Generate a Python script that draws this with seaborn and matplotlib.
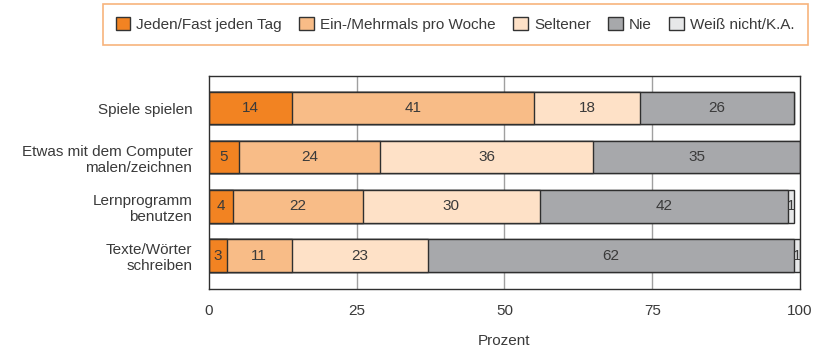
import numpy as np
import pandas as pd
import matplotlib
matplotlib.use("Agg")
import matplotlib.pyplot as plt
import seaborn as sns
from matplotlib.patches import Patch

activities = ["Spiele spielen",
              "Etwas mit dem Computer\nmalen/zeichnen",
              "Lernprogramm\nbenutzen",
              "Texte/Wörter\nschreiben"]
categories = ["Jeden/Fast jeden Tag", "Ein-/Mehrmals pro Woche", "Seltener", "Nie", "Weiß nicht/K.A."]
daily = [14, 5, 4, 3]
weekly = [41, 24, 22, 11]
rarely = [18, 36, 30, 23]
never = [26, 35, 42, 62]
unknown = [0, 0, 1, 1]
colors = ["#F28322", "#F8BC87", "#FEE1C7", "#A7A8AB", "#E7E8E9"]
xticks = [0, 25, 50, 75, 100]

series = [daily, weekly, rarely, never, unknown]
df = pd.DataFrame({c: v for c, v in zip(categories, series)}, index=activities)
cum = df.cumsum(axis=1)

sns.set_theme(style="white")
plt.rcParams["font.family"] = ["Liberation Sans", "DejaVu Sans"]
text_color = "#3a3a3a"
fs = 11

fig = plt.figure(figsize=(8.23, 3.53), dpi=100)
ax = fig.add_axes([0.254, 0.181, 0.718, 0.605])

# gridlines behind the bars
for t in xticks[1:-1]:
    ax.axvline(t, color="#a0a0a0", lw=1.0, zorder=0)

# stacked bars: draw cumulative totals from the longest down
for i in range(len(categories) - 1, -1, -1):
    cat = categories[i]
    plot_df = pd.DataFrame({"activity": activities, "value": cum[cat].values})
    sns.barplot(data=plot_df, x="value", y="activity", orient="h", ax=ax,
                color=colors[i], saturation=1, width=0.66,
                edgecolor="#2f2f2f", linewidth=1.0, zorder=2)

# value labels in the segment centres
for i, cat in enumerate(categories):
    for j, act in enumerate(activities):
        v = df.loc[act, cat]
        if v <= 0:
            continue
        start = cum.loc[act, cat] - v
        ax.text(start + v / 2, j, f"{v}", ha="center", va="center",
                fontsize=fs, color=text_color, zorder=3)

ax.set_xlim(0, 100)
ax.set_ylim(3.68, -0.66)
ax.set_xticks(xticks)
ax.set_xticklabels([str(t) for t in xticks], fontsize=fs, color=text_color)
ax.tick_params(axis="x", direction="out", length=7, width=1, color="#333333", pad=4)
ax.tick_params(axis="y", length=0, pad=12)
for lab in ax.get_yticklabels():
    lab.set_fontsize(fs)
    lab.set_color(text_color)
    lab.set_horizontalalignment("right")
ax.set_ylabel("")
ax.set_xlabel("Prozent", fontsize=fs, color=text_color, labelpad=11)
for s in ax.spines.values():
    s.set_visible(True)
    s.set_color("#2f2f2f")
    s.set_linewidth(1.0)

handles = [Patch(facecolor=c, edgecolor="#333333", linewidth=1.0) for c in colors]
leg = fig.legend(handles, categories, loc="center", bbox_to_anchor=(0.553, 0.93),
                 ncol=5, frameon=True, fontsize=fs, handlelength=0.95, handleheight=0.95,
                 handletextpad=0.4, columnspacing=1.15, borderpad=0.85, fancybox=False)
leg.get_frame().set_edgecolor("#F5A15C")
leg.get_frame().set_linewidth(1.2)
for t in leg.get_texts():
    t.set_color(text_color)

fig.savefig("out.png", dpi=100)
